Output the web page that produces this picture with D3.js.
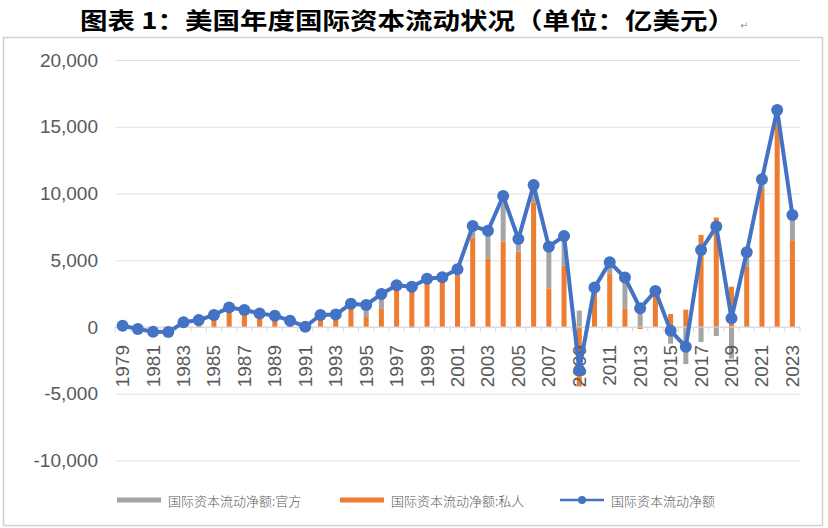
<!DOCTYPE html>
<html>
<head>
<meta charset="utf-8">
<script src="https://cdn.jsdelivr.net/npm/d3@7"></script>
<style>
  html, body { margin: 0; padding: 0; background: #fff; }
  svg { display: block; }
</style>
</head>
<body>
<svg id="chart" width="828" height="528"></svg>
<script>
// ---- Data (亿美元) ----
const years = d3.range(1979, 2024).map(String);
const privateFlow = [150, -100, -300, -350, 400, 550, 950, 1400, 1250, 1000, 870, 450, 80, 750, 850, 1500, 750, 1400, 3050, 3100, 3550, 3650, 4250,
  6700, 5150, 6400, 5650, 9300, 2900, 4600, -4450, 2750, 4000, 1400, -150, 2500, 975, 1300, 6900, 8200, 3020, 4500, 10400, 15300, 6500];
const officialFlow = [-50, -50, -50, -30, -50, -30, -50, 70, 20, 20, -20, 20, -60, 150, 80, 250, 900, 1070, 70, -80, 70, 70, 70,
  860, 2060, 3410, 940, 1340, 3120, 2220, 1230, 200, 850, 2300, 1550, 200, -1255, -2780, -1130, -680, -2370, 1100, 660, 950, 1890];
const netFlow = [100, -150, -350, -380, 350, 520, 900, 1470, 1270, 1020, 850, 470, 20, 900, 930, 1750, 1650, 2470, 3120, 3020, 3620, 3720, 4320,
  7560, 7210, 9810, 6590, 10640, 6020, 6820, -3220, 2950, 4850, 3700, 1400, 2700, -280, -1480, 5770, 7520, 650, 5600, 11060, 16250, 8390];
const yTicks = [-10000, -5000, 0, 5000, 10000, 15000, 20000];
const xTickYears = years.filter((d, i) => i % 2 === 0);
const seriesNames = ["国际资本流动净额:官方", "国际资本流动净额:私人", "国际资本流动净额"];
const titleText = "图表 1：美国年度国际资本流动状况（单位：亿美元）";

// ---- Setup ----
const svg = d3.select("#chart");
const colors = { official: "#A5A5A5", private: "#ED7D31", net: "#4472C4" };
const plot = { left: 115, right: 800, top: 60, bottom: 460.5 };

// Title
svg.append("text")
  .attr("x", 80).attr("y", 29)
  .attr("font-family", "'Noto Sans CJK SC', sans-serif")
  .attr("font-weight", "bold")
  .attr("font-size", 23)
  .attr("textLength", 655)
  .attr("lengthAdjust", "spacingAndGlyphs")
  .attr("fill", "#000")
  .text(titleText);
svg.append("text")
  .attr("x", 740).attr("y", 29)
  .attr("font-family", "'DejaVu Sans', sans-serif")
  .attr("font-size", 10)
  .attr("fill", "#999")
  .text("↵");

// Frame
svg.append("rect")
  .attr("x", 3.5).attr("y", 37.5).attr("width", 819).attr("height", 488)
  .attr("fill", "none").attr("stroke", "#d0d0d0").attr("stroke-width", 1.5);

// Scales
const x = d3.scaleBand().domain(years).range([plot.left, plot.right]);
const xBar = d3.scaleBand().domain(years).range([plot.left, plot.right]).paddingInner(0.67).paddingOuter(0.335);
const y = d3.scaleLinear().domain([-10000, 20000]).range([plot.bottom, plot.top]);
const fmt = v => (v < 0 ? "-" : "") + d3.format(",")(Math.abs(v));

// Gridlines
svg.append("g")
  .attr("transform", `translate(${plot.left},0)`)
  .call(d3.axisLeft(y).tickValues(yTicks).tickSize(-(plot.right - plot.left)).tickFormat(""))
  .call(g => g.select(".domain").remove())
  .call(g => g.selectAll("line").attr("stroke", "#e0e0e0").attr("stroke-width", 1));

// Y axis labels
svg.append("g")
  .attr("transform", `translate(98,0)`)
  .call(d3.axisLeft(y).tickValues(yTicks).tickSize(0).tickPadding(0).tickFormat(fmt))
  .call(g => g.select(".domain").remove())
  .call(g => g.selectAll("text")
    .attr("font-family", "'Liberation Sans', Arial, sans-serif")
    .attr("font-size", 19)
    .attr("fill", "#595959"));

// Stacked bars
const rows = years.map((yr, i) => ({ year: yr, private: privateFlow[i], official: officialFlow[i] }));
const stacked = d3.stack().keys(["private", "official"]).offset(d3.stackOffsetDiverging)(rows);
svg.append("g").selectAll("g")
  .data(stacked).join("g")
  .attr("fill", d => colors[d.key])
  .selectAll("rect")
  .data(d => d).join("rect")
  .attr("x", d => xBar(d.data.year))
  .attr("width", xBar.bandwidth())
  .attr("y", d => y(Math.max(d[0], d[1])))
  .attr("height", d => Math.abs(y(d[0]) - y(d[1])));

// X axis baseline with category ticks
const xAxisG = svg.append("g").attr("transform", `translate(0,${y(0)})`);
xAxisG.append("line")
  .attr("x1", plot.left).attr("x2", plot.right)
  .attr("stroke", "#d9d9d9").attr("stroke-width", 1);
xAxisG.selectAll("line.tick")
  .data(years.concat(["end"])).join("line")
  .attr("class", "tick")
  .attr("x1", (d, i) => plot.left + i * x.step()).attr("x2", (d, i) => plot.left + i * x.step())
  .attr("y1", 0).attr("y2", 5)
  .attr("stroke", "#d9d9d9").attr("stroke-width", 1);

// X labels (rotated)
svg.append("g")
  .attr("transform", `translate(0,${y(0)})`)
  .call(d3.axisBottom(x).tickValues(xTickYears).tickSize(0).tickPadding(0))
  .call(g => g.select(".domain").remove())
  .call(g => g.selectAll("text")
    .attr("font-family", "'Liberation Sans', Arial, sans-serif")
    .attr("font-size", 19)
    .attr("fill", "#595959")
    .attr("text-anchor", "end")
    .attr("dominant-baseline", "central")
    .attr("dy", null)
    .attr("y", 0)
    .attr("transform", "translate(0,18) rotate(-90)"));

// Net line
const line = d3.line().x((d, i) => x(years[i]) + x.bandwidth() / 2).y(d => y(d));
svg.append("path")
  .datum(netFlow)
  .attr("fill", "none")
  .attr("stroke", colors.net)
  .attr("stroke-width", 4)
  .attr("stroke-linejoin", "round")
  .attr("d", line);
svg.append("g").selectAll("circle")
  .data(netFlow).join("circle")
  .attr("cx", (d, i) => x(years[i]) + x.bandwidth() / 2)
  .attr("cy", d => y(d))
  .attr("r", 6)
  .attr("fill", colors.net);

// Legend
const legendY = 500;
const legendItems = [
  { name: seriesNames[0], color: colors.official, x: 117, type: "bar" },
  { name: seriesNames[1], color: colors.private, x: 340, type: "bar" },
  { name: seriesNames[2], color: colors.net, x: 560, type: "line" }
];
const lg = svg.append("g").selectAll("g").data(legendItems).join("g")
  .attr("transform", d => `translate(${d.x},${legendY})`);
lg.append("line")
  .attr("x1", 0).attr("x2", 44).attr("y1", 0).attr("y2", 0)
  .attr("stroke", d => d.color)
  .attr("stroke-width", d => d.type === "bar" ? 5 : 2.5);
lg.filter(d => d.type === "line").append("circle")
  .attr("cx", 22).attr("cy", 0).attr("r", 4).attr("fill", d => d.color);
lg.append("text")
  .attr("x", 51).attr("y", 0)
  .attr("dominant-baseline", "central")
  .attr("font-family", "'Noto Sans CJK SC', sans-serif")
  .attr("font-weight", 300)
  .attr("font-size", 13)
  .attr("fill", "#595959")
  .text(d => d.name);
</script>
</body>
</html>
